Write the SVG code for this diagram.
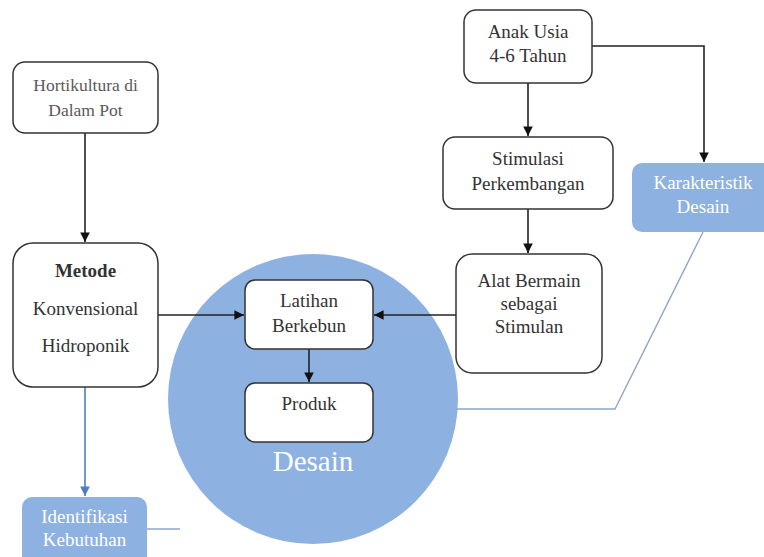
<svg xmlns="http://www.w3.org/2000/svg" width="764" height="557" viewBox="0 0 764 557">
<style>
.box{fill:#ffffff;stroke:#333333;stroke-width:1.5}
.blue{fill:#8db1e1;stroke:none}
.t{font-family:"Liberation Serif","Times New Roman",serif;font-size:19px;fill:#333333;text-anchor:middle}
.tl{font-family:"Liberation Serif","Times New Roman",serif;font-size:17.5px;fill:#5a5a5a;text-anchor:middle}
.tw{font-family:"Liberation Serif","Times New Roman",serif;font-size:19px;fill:#ffffff;text-anchor:middle}
.arr{fill:none;stroke:#222222;stroke-width:1.6;marker-end:url(#ah)}
.arrb{fill:none;stroke:#4f7cc0;stroke-width:1.6;marker-end:url(#ahb)}
.thin{fill:none;stroke:#8ea6c8;stroke-width:1.4}
</style>
<defs>
<marker id="ah" viewBox="0 0 10 10" refX="10" refY="5" markerWidth="6" markerHeight="6" markerUnits="strokeWidth" orient="auto">
<path d="M0,0 L10,5 L0,10 Z" fill="#111111"/>
</marker>
<marker id="ahb" viewBox="0 0 10 10" refX="10" refY="5" markerWidth="6" markerHeight="6" markerUnits="strokeWidth" orient="auto">
<path d="M0,0 L10,5 L0,10 Z" fill="#4f7cc0"/>
</marker>
</defs>
<rect width="764" height="557" fill="#ffffff"/>
<g id="desain">
<circle cx="313" cy="399" r="145" fill="#8db1e1"/>
<text x="313" y="471" font-family="Liberation Serif, Times New Roman, serif" font-size="29" fill="#ffffff" text-anchor="middle">Desain</text>
</g>
<g id="connectors">
<path class="arr" d="M85,133 L85,242"/>
<path class="arrb" d="M85,387 L85,496"/>
<path class="thin" d="M147,529 L180,529"/>
<path class="arr" d="M158,315 L244,315"/>
<path class="arr" d="M456,315 L374,315"/>
<path class="arr" d="M309,349 L309,382"/>
<path class="arr" d="M528,83 L528,136"/>
<path class="arr" d="M592,46 L704,46 L704,162"/>
<path class="arr" d="M528,209 L528,253"/>
<path class="thin" d="M703,232 L615,409 L456,409"/>
</g>
<g id="hortikultura">
<rect class="box" x="13" y="62" width="145" height="71" rx="12"/>
<text class="tl" x="85.5" y="91">Hortikultura di</text>
<text class="tl" x="85.5" y="116">Dalam Pot</text>
</g>
<g id="metode">
<rect class="box" x="13" y="243" width="145" height="144" rx="20"/>
<text class="t" x="85.5" y="277" font-weight="bold">Metode</text>
<text class="t" x="85.5" y="315">Konvensional</text>
<text class="t" x="85.5" y="352">Hidroponik</text>
</g>
<g id="identifikasi">
<rect class="blue" x="22" y="497" width="125" height="75" rx="10"/>
<text class="tw" x="84.5" y="523">Identifikasi</text>
<text class="tw" x="84.5" y="546">Kebutuhan</text>
</g>
<g id="latihan">
<rect class="box" x="245" y="280" width="128" height="69" rx="10"/>
<text class="t" x="309" y="307">Latihan</text>
<text class="t" x="309" y="332">Berkebun</text>
</g>
<g id="produk">
<rect class="box" x="245" y="383" width="128" height="59" rx="10"/>
<text class="t" x="309" y="410">Produk</text>
</g>
<g id="anak">
<rect class="box" x="464" y="10" width="128" height="73" rx="12"/>
<text class="t" x="528" y="38">Anak Usia</text>
<text class="t" x="528" y="62">4-6 Tahun</text>
</g>
<g id="stimulasi">
<rect class="box" x="443" y="137" width="170" height="72" rx="12"/>
<text class="t" x="528" y="165">Stimulasi</text>
<text class="t" x="528" y="190">Perkembangan</text>
</g>
<g id="alat">
<rect class="box" x="456" y="254" width="146" height="119" rx="16"/>
<text class="t" x="529" y="287">Alat Bermain</text>
<text class="t" x="529" y="310">sebagai</text>
<text class="t" x="529" y="333">Stimulan</text>
</g>
<g id="karakteristik">
<rect class="blue" x="632" y="163" width="142" height="69" rx="10"/>
<text class="tw" x="703" y="189" font-size="19.5">Karakteristik</text>
<text class="tw" x="703" y="213" font-size="19.5">Desain</text>
</g>
</svg>
